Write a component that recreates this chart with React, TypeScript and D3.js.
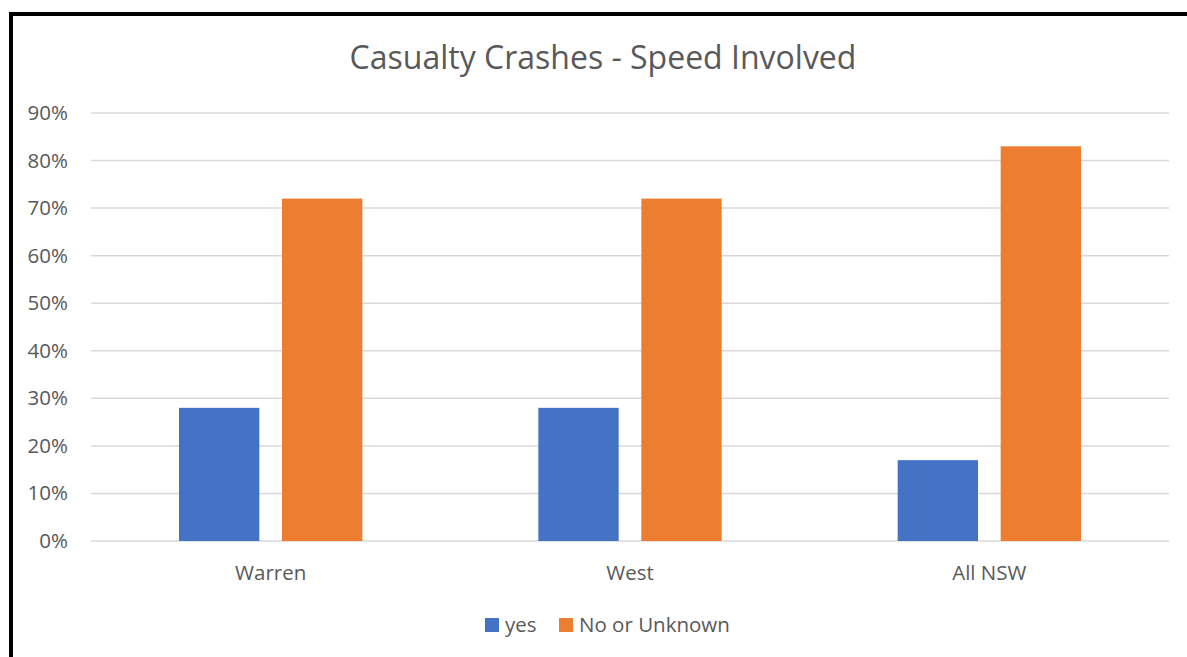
import React, { useEffect, useRef } from "react";
import * as d3 from "d3";

const categories = ["Warren", "West", "All NSW"];
const seriesNames = ["yes", "No or Unknown"];
const yesValues = [28, 28, 17];
const noValues = [72, 72, 83];
const yTicks = [0, 10, 20, 30, 40, 50, 60, 70, 80, 90];
const colors = ["#4472C4", "#ED7D31"];

const W = 1187;
const H = 657;

function App() {
  const ref = useRef<SVGSVGElement>(null);

  useEffect(() => {
    const svg = d3.select(ref.current);
    svg.selectAll("*").remove();

    const font = "'Open Sans', sans-serif";
    const margin = { top: 113, right: 18, bottom: 116, left: 91 };
    const width = W - margin.left - margin.right;
    const height = H - margin.top - margin.bottom;

    svg.append("rect").attr("width", W).attr("height", H).attr("fill", "#fff");

    // frame
    svg.append("rect")
      .attr("x", 11).attr("y", 14)
      .attr("width", W + 20).attr("height", H + 20)
      .attr("fill", "none").attr("stroke", "#000").attr("stroke-width", 4);

    svg.append("text")
      .attr("x", 603).attr("y", 69)
      .attr("text-anchor", "middle")
      .attr("font-family", font).attr("font-size", 32)
      .attr("fill", "#595959")
      .text("Casualty Crashes - Speed Involved");

    const g = svg.append("g").attr("transform", `translate(${margin.left},${margin.top})`);

    const x = d3.scaleBand().domain(categories).range([0, width]);
    const inner = d3.scaleBand().domain(seriesNames).range([88, x.bandwidth() - 88]).paddingInner(0.22);
    const y = d3.scaleLinear().domain([0, 90]).range([height, 0]);

    // gridlines
    g.selectAll(".grid")
      .data(yTicks)
      .join("line")
      .attr("x1", 0).attr("x2", width)
      .attr("y1", d => y(d)).attr("y2", d => y(d))
      .attr("stroke", "#d9d9d9").attr("stroke-width", 1.5);

    // y tick labels
    g.selectAll(".ylab")
      .data(yTicks)
      .join("text")
      .attr("x", -23).attr("y", d => y(d) + 7)
      .attr("text-anchor", "end")
      .attr("font-family", font).attr("font-size", 20.5)
      .attr("fill", "#595959")
      .text(d => `${d}%`);

    const series = [yesValues, noValues];
    series.forEach((vals, si) => {
      g.selectAll(`.bar${si}`)
        .data(vals)
        .join("rect")
        .attr("x", (d, i) => (x(categories[i]) as number) + (inner(seriesNames[si]) as number))
        .attr("y", d => y(d))
        .attr("width", inner.bandwidth())
        .attr("height", d => height - y(d))
        .attr("fill", colors[si]);
    });

    // category labels
    g.selectAll(".xlab")
      .data(categories)
      .join("text")
      .attr("x", d => (x(d) as number) + x.bandwidth() / 2)
      .attr("y", height + 39)
      .attr("text-anchor", "middle")
      .attr("font-family", font).attr("font-size", 20.5)
      .attr("fill", "#595959")
      .text(d => d);

    // legend
    const legendX = [485, 559];
    seriesNames.forEach((name, i) => {
      svg.append("rect")
        .attr("x", legendX[i]).attr("y", 618)
        .attr("width", 14).attr("height", 14)
        .attr("fill", colors[i]);
      svg.append("text")
        .attr("x", legendX[i] + 20).attr("y", 632)
        .attr("font-family", font).attr("font-size", 20.5)
        .attr("fill", "#595959")
        .text(name);
    });
  }, []);

  return (
    <svg
      ref={ref}
      width={W}
      height={H}
      style={{ position: "absolute", left: 0, top: 0 }}
    />
  );
}

export default App;
